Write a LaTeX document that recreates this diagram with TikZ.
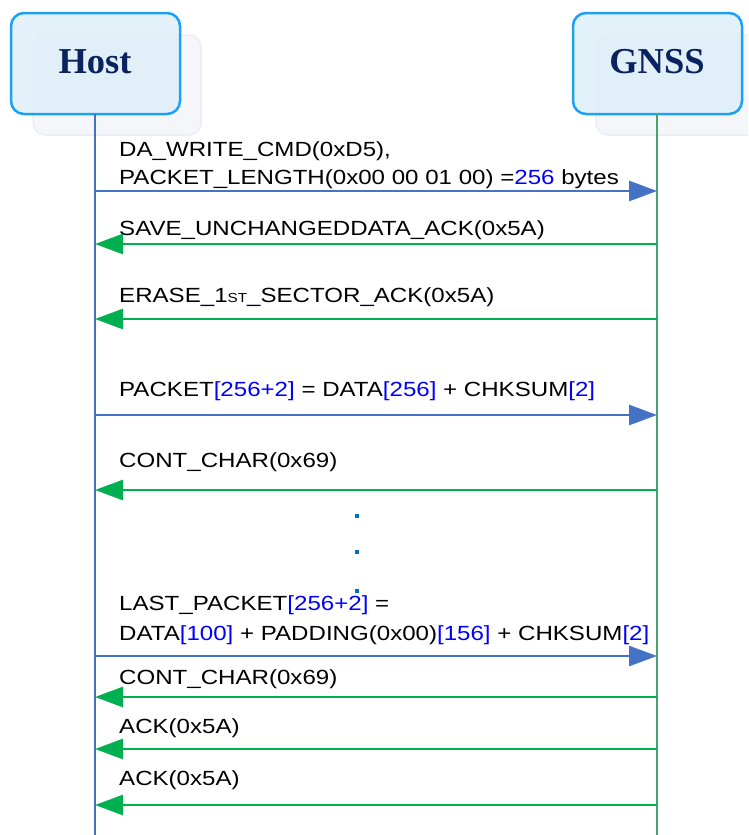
\documentclass[tikz,border=0pt]{standalone}
\usepackage{fontspec}
\setmainfont[FakeStretch=1.175]{Liberation Sans}
\newfontfamily\titlefont{Liberation Serif}
\usetikzlibrary{arrows.meta}
\definecolor{msgblue}{RGB}{68,114,196}
\definecolor{msggreen}{RGB}{0,176,80}
\definecolor{lifegreen}{RGB}{70,165,110}
\definecolor{boxedge}{RGB}{30,160,245}
\definecolor{boxfill}{RGB}{222,239,248}
\definecolor{shadowfill}{RGB}{244,246,250}
\definecolor{shadowedge}{RGB}{234,238,244}
\definecolor{titlecol}{RGB}{10,35,95}
\definecolor{numblue}{RGB}{0,0,255}
\definecolor{dotblue}{RGB}{0,112,192}
\newcommand{\nb}[1]{\textcolor{numblue}{#1}}
\tikzset{
  shadowbox/.style={fill=shadowfill,draw=shadowedge,line width=1.5pt,rounded corners=12pt},
  actorbox/.style={fill=boxfill,fill opacity=0.85,draw=boxedge,line width=2.5pt,rounded corners=13pt},
  actortext/.style={font=\titlefont\bfseries\fontsize{36.5}{40}\selectfont,text=titlecol,inner sep=0pt},
  msgtext/.style={anchor=base west,inner sep=0pt,font=\fontsize{20.5}{28}\selectfont},
  tomsg/.style={draw=msgblue,line width=2.8pt,-{Triangle[length=28pt,width=20pt]}},
  backmsg/.style={draw=msggreen,line width=2.8pt,-{Triangle[length=28pt,width=20pt]}},
}
\begin{document}
\begin{tikzpicture}[x=1pt,y=-1pt]
\useasboundingbox (0,0) rectangle (748,835);
\clip (0,0) rectangle (748,835);
% actor boxes
\draw[shadowbox] (33,35) rectangle (201,135);
\draw[shadowbox] (596,35) rectangle (764,135);
\draw[actorbox] (11,13) rectangle (180,114);
\draw[actorbox] (573,13) rectangle (742,114);
\node[actortext] (host) at (95,62) {Host};
\node[actortext] (gnss) at (657,62) {GNSS};
% lifelines
\coordinate (hoststart) at (95,114);
\coordinate (gnssstart) at (657,114);
\coordinate (hostend) at (95,835);
\coordinate (gnssend) at (657,835);
\draw[msgblue,line width=2.3pt] (hoststart) -- (hostend);
\draw[lifegreen,line width=2.3pt] (gnssstart) -- (gnssend);
% message coordinates
\foreach \i/\y in {1/191,2/244,3/319,4/415,5/490,6/656,7/697,8/749,9/805}{
  \coordinate (h\i) at (95,\y);
  \coordinate (g\i) at (657,\y);
}
% messages
\node[msgtext] (t1a) at (119,156) {DA\_WRITE\_CMD(0xD5),};
\node[msgtext] (t1b) at (119,184) {PACKET\_LENGTH(0x00 00 01 00) =\nb{256} bytes};
\draw[tomsg] (h1) -- (g1);
\node[msgtext] (t2) at (119,235) {SAVE\_UNCHANGEDDATA\_ACK(0x5A)};
\draw[backmsg] (g2) -- (h2);
\node[msgtext] (t3) at (119,302) {ERASE\_1{\fontsize{13}{13}\selectfont ST}\_SECTOR\_ACK(0x5A)};
\draw[backmsg] (g3) -- (h3);
\node[msgtext] (t4) at (119,396) {PACKET\nb{[256+2]} = DATA\nb{[256]} + CHKSUM\nb{[2]}};
\draw[tomsg] (h4) -- (g4);
\node[msgtext] (t5) at (119,467) {CONT\_CHAR(0x69)};
\draw[backmsg] (g5) -- (h5);
% dots
\foreach \y in {516,552,591}{
  \fill[dotblue] (355,\y-2) rectangle (359,\y+2);
}
\node[msgtext] (t6a) at (119,610) {LAST\_PACKET\nb{[256+2]} =};
\node[msgtext] (t6b) at (119,640) {DATA\nb{[100]} + PADDING(0x00)\nb{[156]} + CHKSUM\nb{[2]}};
\draw[tomsg] (h6) -- (g6);
\node[msgtext] (t7) at (119,684) {CONT\_CHAR(0x69)};
\draw[backmsg] (g7) -- (h7);
\node[msgtext] (t8) at (119,733) {ACK(0x5A)};
\draw[backmsg] (g8) -- (h8);
\node[msgtext] (t9) at (119,785) {ACK(0x5A)};
\draw[backmsg] (g9) -- (h9);
\end{tikzpicture}
\end{document}
